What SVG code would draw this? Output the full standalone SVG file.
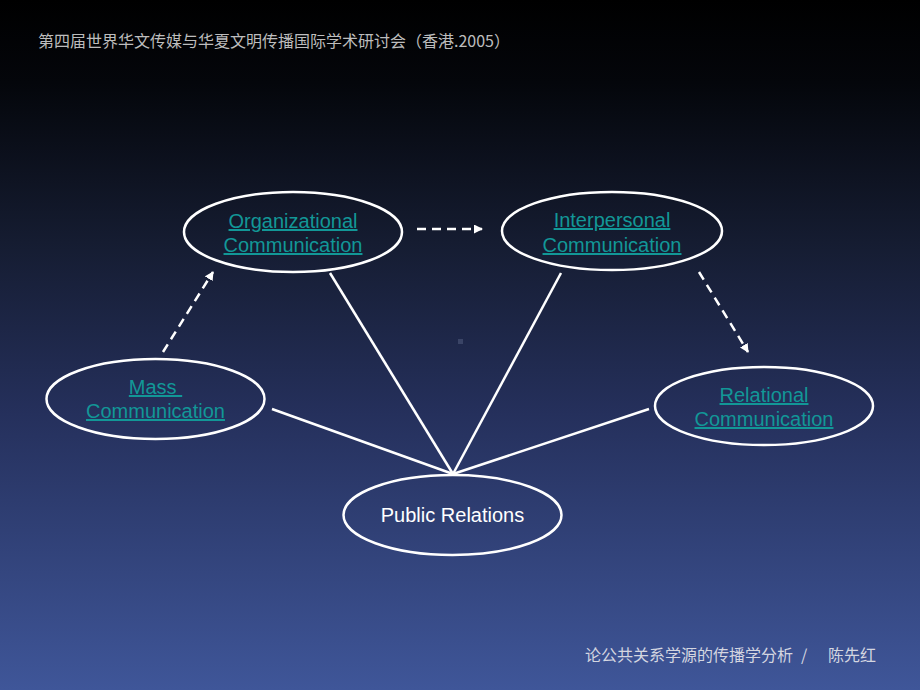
<svg xmlns="http://www.w3.org/2000/svg" width="920" height="690" viewBox="0 0 920 690">
<defs>
<linearGradient id="bg" x1="0" y1="0" x2="0" y2="1">
<stop offset="0" stop-color="#000000"/>
<stop offset="0.12" stop-color="#04060b"/>
<stop offset="0.35" stop-color="#151c31"/>
<stop offset="0.6" stop-color="#25305c"/>
<stop offset="1" stop-color="#3f5699"/>
</linearGradient>
<marker id="arr" markerWidth="9" markerHeight="9" refX="8" refY="4.5" orient="auto" markerUnits="userSpaceOnUse">
<path d="M0,0 L9,4.5 L0,9 Z" fill="#ffffff"/>
</marker>
<style>
.node{fill:none;stroke:#ffffff;stroke-width:2.5}
.lbl{font-family:"Liberation Sans",Arial,sans-serif;font-size:20px;fill:#129797;text-decoration:underline;text-anchor:middle}
.pr{font-family:"Liberation Sans",Arial,sans-serif;font-size:20px;fill:#ffffff;text-anchor:middle}
.line{stroke:#ffffff;stroke-width:2.5;fill:none}
.dash{stroke:#ffffff;stroke-width:2.5;fill:none;stroke-dasharray:9,6;marker-end:url(#arr)}
.cap{font-family:"Noto Sans CJK SC","Liberation Sans",sans-serif;font-size:16px}
</style>
</defs>
<rect width="920" height="690" fill="url(#bg)"/>
<text class="cap" x="38" y="47" fill="#bdbdbd">第四届世界华文传媒与华夏文明传播国际学术研讨会（香港.2005）</text>
<text class="cap" y="661" fill="#d4d6e0"><tspan x="585">论公共关系学源的传播学分析</tspan><tspan x="801">/</tspan><tspan x="828">陈先红</tspan></text>
<rect x="458" y="339" width="5" height="5" fill="#3a4466"/>
<g id="connectors">
<line class="line" x1="453" y1="474" x2="330" y2="273"/>
<line class="line" x1="453" y1="474" x2="561" y2="273"/>
<line class="line" x1="453" y1="474" x2="272" y2="409"/>
<line class="line" x1="453" y1="474" x2="649" y2="409"/>
<line class="dash" x1="417" y1="229" x2="482" y2="229"/>
<line class="dash" x1="163" y1="352" x2="213" y2="272"/>
<line class="dash" x1="699" y1="272" x2="748" y2="352"/>
</g>
<g id="organizational">
<ellipse class="node" cx="293" cy="232" rx="109" ry="40"/>
<text class="lbl" x="293" y="228">Organizational</text>
<text class="lbl" x="293" y="252">Communication</text>
</g>
<g id="interpersonal">
<ellipse class="node" cx="612" cy="231" rx="110" ry="39"/>
<text class="lbl" x="612" y="227">Interpersonal</text>
<text class="lbl" x="612" y="252">Communication</text>
</g>
<g id="mass">
<ellipse class="node" cx="155.5" cy="399" rx="109" ry="40"/>
<text class="lbl" x="155.5" y="394">Mass&#160;</text>
<text class="lbl" x="155.5" y="418">Communication</text>
</g>
<g id="relational">
<ellipse class="node" cx="764" cy="406" rx="109" ry="39"/>
<text class="lbl" x="764" y="402">Relational</text>
<text class="lbl" x="764" y="426">Communication</text>
</g>
<g id="public-relations">
<ellipse class="node" cx="452.5" cy="515" rx="109" ry="40"/>
<text class="pr" x="452.5" y="522">Public Relations</text>
</g>
</svg>
